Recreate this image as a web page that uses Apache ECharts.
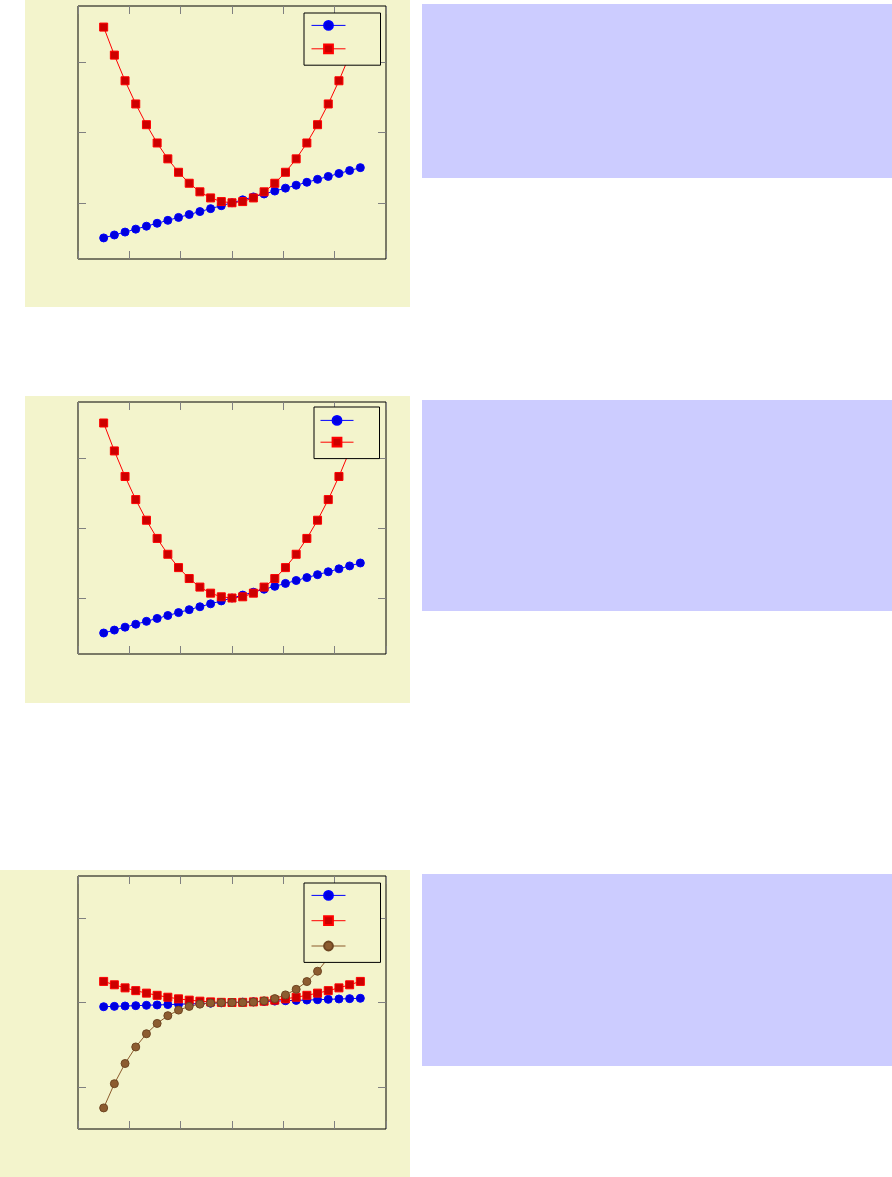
<!DOCTYPE html>
<html><head><meta charset="utf-8">
<script src="https://cdn.jsdelivr.net/npm/echarts@6/dist/echarts.min.js"></script>
<style>html,body{margin:0;padding:0;background:#fff}#c{width:892px;height:1177px}</style>
</head><body><div id="c"></div><script>
// sample positions along x
const xValues = [-5, -4.583, -4.167, -3.75, -3.333, -2.917, -2.5, -2.083, -1.667, -1.25, -0.833, -0.417, 0,
  0.417, 0.833, 1.25, 1.667, 2.083, 2.5, 2.917, 3.333, 3.75, 4.167, 4.583, 5];
// series 1 (blue circles)
const linearValues = [-5, -4.583, -4.167, -3.75, -3.333, -2.917, -2.5, -2.083, -1.667, -1.25, -0.833, -0.417, 0,
  0.417, 0.833, 1.25, 1.667, 2.083, 2.5, 2.917, 3.333, 3.75, 4.167, 4.583, 5];
// series 2 (red squares)
const squareValues = [25, 21.01, 17.36, 14.06, 11.11, 8.51, 6.25, 4.34, 2.78, 1.56, 0.69, 0.17, 0,
  0.17, 0.69, 1.56, 2.78, 4.34, 6.25, 8.51, 11.11, 14.06, 17.36, 21.01, 25];
// series 3 (brown circles, bottom panel)
const cubeValues = [-125, -96.27, -72.34, -52.73, -37.04, -24.81, -15.63, -9.04, -4.63, -1.95, -0.58, -0.07, 0,
  0.07, 0.58, 1.95, 4.63, 9.04, 15.63, 24.81, 37.04, 52.73, 72.34, 96.27, 125];
// tick positions
const xTicks = [-6, -4, -2, 0, 2, 4, 6];
const yTicksUpper = [0, 10, 20];
const yTicksLower = [-100, 0, 100];

const BG = '#f3f4cc';
const pair = arr => xValues.map((x, i) => [x, arr[i]]);

const grids = [
  {left: 78, top: 6, width: 308, height: 253, ymin: -8, ymax: 28, yticks: yTicksUpper},
  {left: 78, top: 402, width: 308, height: 252, ymin: -8, ymax: 28, yticks: yTicksUpper},
  {left: 78, top: 876, width: 308, height: 253, ymin: -150, ymax: 150, yticks: yTicksLower}
];

const tick = {show: true, inside: true, length: 8, lineStyle: {color: '#808080', width: 1}};
const xAxis = [], yAxis = [];
grids.forEach((g, i) => {
  ['bottom', 'top'].forEach(pos => xAxis.push({
    type: 'value', gridIndex: i, position: pos, min: -6, max: 6, interval: 2,
    axisLine: {show: false, onZero: false}, axisTick: Object.assign({customValues: xTicks}, tick),
    axisLabel: {show: false}, splitLine: {show: false}
  }));
  ['left', 'right'].forEach(pos => yAxis.push({
    type: 'value', gridIndex: i, position: pos, min: g.ymin, max: g.ymax,
    axisLine: {show: false, onZero: false}, axisTick: Object.assign({customValues: g.yticks}, tick),
    axisLabel: {show: false, customValues: g.yticks}, splitLine: {show: false}
  }));
});

const styles = {
  blue: {symbol: 'circle', line: '#0000ff', fill: '#0000dd', border: '#0000ff'},
  red: {symbol: 'rect', line: '#ff0000', fill: '#cc0000', border: '#ff0000'},
  brown: {symbol: 'circle', line: '#8b5a2b', fill: '#8c5c30', border: '#6e4622'}
};
function mk(name, gi, arr, st) {
  const s = styles[st];
  return {
    name: name, type: 'line', xAxisIndex: gi * 2, yAxisIndex: gi * 2,
    data: pair(arr), symbol: s.symbol, symbolSize: 8, showSymbol: true,
    lineStyle: {color: s.line, width: 1},
    itemStyle: {color: s.fill, borderColor: s.border, borderWidth: 1},
    emphasis: {disabled: true}, animation: false
  };
}
const series = [
  mk('a1', 0, linearValues, 'blue'), mk('b1', 0, squareValues, 'red'),
  mk('a2', 1, linearValues, 'blue'), mk('b2', 1, squareValues, 'red'),
  mk('a3', 2, linearValues, 'blue'), mk('b3', 2, squareValues, 'red'), mk('c3', 2, cubeValues, 'brown')
];

function leg(data, left, top, iw, gap, pad) {
  return {
    data: data, orient: 'vertical', left: left, top: top, itemWidth: iw, itemHeight: 11, itemGap: gap,
    padding: pad, borderColor: '#000', borderWidth: 1, backgroundColor: BG,
    lineStyle: {color: 'inherit', width: 1},
    formatter: () => '', textStyle: {fontSize: 10, lineHeight: 10}, selectedMode: false
  };
}
const legend = [
  leg(['a1', 'b1'], 304, 13, 34, 12.6, [7, 30, 11, 7]),
  leg(['a2', 'b2'], 314, 407, 33, 11, [8, 21, 11, 6]),
  leg(['a3', 'b3', 'c3'], 304, 883, 34, 14.5, [7, 30, 11, 7])
];

const rect = (x, y, w, h, c) => ({type: 'rect', z: -10, shape: {x: x, y: y, width: w, height: h}, style: {fill: c}, silent: true});
const graphic = [
  rect(25, 0, 385, 307, BG), rect(422, 4, 470, 174, '#ccccff'),
  rect(25, 396, 385, 307, BG), rect(422, 400, 470, 211, '#ccccff'),
  rect(0, 870, 410, 307, BG), rect(422, 874, 470, 192, '#ccccff')
];

const chart = echarts.init(document.getElementById('c'), null, {renderer: 'canvas'});
chart.setOption({
  animation: false,
  grid: grids.map(g => ({left: g.left, top: g.top, width: g.width, height: g.height, show: true,
    borderColor: '#000', borderWidth: 1, backgroundColor: 'transparent'})),
  xAxis: xAxis, yAxis: yAxis, series: series, legend: legend, graphic: graphic
});
</script></body></html>
